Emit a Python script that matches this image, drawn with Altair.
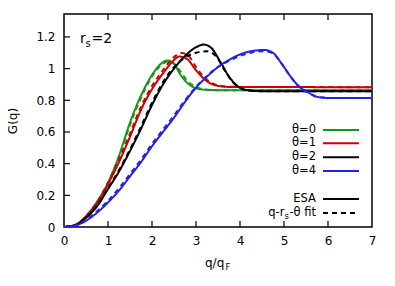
import altair as alt
import pandas as pd

# ---- data ----
series_names = ["θ=0", "θ=1", "θ=2", "θ=4"]
series_colors = ["#1c951c", "#cc0000", "#000000", "#2222e6"]

q_t0 = [0, 0.25, 0.5, 0.75, 1.0, 1.25, 1.5, 1.75, 2.0, 2.2, 2.35, 2.5, 2.65, 2.8, 2.95, 3.15, 3.5, 7.0]
g_t0 = [0, 0.012, 0.07, 0.16, 0.28, 0.45, 0.66, 0.83, 0.96, 1.03, 1.052, 1.03, 0.96, 0.91, 0.882, 0.868, 0.864, 0.863]
q_t0f = [0, 0.25, 0.5, 0.75, 1.0, 1.25, 1.5, 1.75, 2.0, 2.2, 2.38, 2.55, 2.7, 2.85, 3.0, 3.2, 3.5, 7.0]
g_t0f = [0, 0.012, 0.068, 0.155, 0.275, 0.44, 0.645, 0.815, 0.95, 1.02, 1.045, 1.02, 0.96, 0.91, 0.885, 0.868, 0.864, 0.863]

q_t1 = [0, 0.25, 0.5, 0.75, 1.0, 1.25, 1.5, 1.75, 2.0, 2.25, 2.45, 2.62, 2.8, 3.0, 3.25, 3.5, 3.8, 7.0]
g_t1 = [0, 0.012, 0.065, 0.15, 0.27, 0.41, 0.57, 0.74, 0.87, 0.97, 1.04, 1.076, 1.06, 0.99, 0.92, 0.891, 0.884, 0.883]
q_t1f = [0, 0.25, 0.5, 0.75, 1.0, 1.25, 1.5, 1.75, 2.0, 2.25, 2.45, 2.68, 2.85, 3.0, 3.25, 3.5, 3.8, 7.0]
g_t1f = [0, 0.012, 0.066, 0.155, 0.28, 0.425, 0.59, 0.76, 0.89, 0.99, 1.06, 1.098, 1.075, 1.01, 0.93, 0.895, 0.885, 0.883]

q_t2 = [0, 0.25, 0.5, 0.75, 1.0, 1.25, 1.5, 1.75, 2.0, 2.25, 2.5, 2.75, 3.0, 3.18, 3.35, 3.56, 3.75, 3.9, 4.1, 4.4, 7.0]
g_t2 = [0, 0.01, 0.058, 0.13, 0.24, 0.35, 0.48, 0.62, 0.77, 0.9, 1.0, 1.08, 1.135, 1.152, 1.13, 1.04, 0.95, 0.9, 0.868, 0.858, 0.857]
q_t2f = [0, 0.25, 0.5, 0.75, 1.0, 1.25, 1.5, 1.75, 2.0, 2.25, 2.5, 2.75, 3.0, 3.25, 3.45, 3.65, 3.85, 4.05, 4.4, 7.0]
g_t2f = [0, 0.01, 0.06, 0.135, 0.245, 0.36, 0.49, 0.635, 0.785, 0.915, 1.01, 1.07, 1.1, 1.11, 1.08, 0.99, 0.91, 0.872, 0.858, 0.857]

q_t4 = [0, 0.25, 0.5, 0.75, 1.0, 1.25, 1.5, 1.75, 2.0, 2.25, 2.5, 2.75, 3.0, 3.25, 3.5, 3.75, 4.0, 4.25, 4.55, 4.75, 4.95, 5.15, 5.35, 5.55, 5.75, 6.0, 7.0]
g_t4 = [0, 0.008, 0.04, 0.09, 0.155, 0.23, 0.32, 0.41, 0.51, 0.6, 0.69, 0.79, 0.88, 0.95, 1.01, 1.055, 1.09, 1.11, 1.118, 1.1, 1.03, 0.95, 0.885, 0.85, 0.822, 0.815, 0.814]
q_t4f = q_t4
g_t4f = [0, 0.009, 0.045, 0.1, 0.165, 0.245, 0.335, 0.425, 0.525, 0.615, 0.705, 0.8, 0.885, 0.955, 1.01, 1.05, 1.08, 1.1, 1.11, 1.095, 1.03, 0.95, 0.885, 0.85, 0.822, 0.815, 0.814]

x_ticks = [0, 1, 2, 3, 4, 5, 6, 7]
y_ticks = [0, 0.2, 0.4, 0.6, 0.8, 1, 1.2]
x_inner_ticks = [1, 2, 3, 4, 5, 6]
y_inner_ticks = [0.2, 0.4, 0.6, 0.8, 1, 1.2]

curves = [
    ("θ=0", "ESA", q_t0, g_t0), ("θ=0", "fit", q_t0f, g_t0f),
    ("θ=1", "ESA", q_t1, g_t1), ("θ=1", "fit", q_t1f, g_t1f),
    ("θ=2", "ESA", q_t2, g_t2), ("θ=2", "fit", q_t2f, g_t2f),
    ("θ=4", "ESA", q_t4, g_t4), ("θ=4", "fit", q_t4f, g_t4f),
]
rows = []
for name, kind, qs, gs in curves:
    for q, g in zip(qs, gs):
        rows.append({"q": q, "G": g, "series": name, "kind": kind})
df = pd.DataFrame(rows)

W, H = 308, 213
FONT = "DejaVu Sans"
xs = alt.Scale(domain=[0, 7], nice=False, zero=False)
ys = alt.Scale(domain=[0, 1.345], nice=False, zero=False)

x_axis = alt.Axis(values=x_ticks, format="d", ticks=False, domain=False, grid=False,
                  labelPadding=8, labelFlush=False, labelFontSize=12, labelFont=FONT,
                  labelColor="black", title=None)
y_axis = alt.Axis(values=y_ticks, format="~g", ticks=False, domain=False, grid=False,
                  labelPadding=9, labelFontSize=12, labelFont=FONT, labelColor="black",
                  title="G(q)", titleFont=FONT, titleFontSize=12, titleFontWeight="normal",
                  titleColor="black", titlePadding=16)

lines = alt.Chart(df).mark_line(strokeWidth=2, interpolate="monotone", clip=True).encode(
    x=alt.X("q:Q", scale=xs, axis=x_axis),
    y=alt.Y("G:Q", scale=ys, axis=y_axis),
    color=alt.Color("series:N", scale=alt.Scale(domain=series_names, range=series_colors), legend=None),
    strokeDash=alt.StrokeDash("kind:N", scale=alt.Scale(domain=["ESA", "fit"], range=[[1, 0], [5, 4]]), legend=None),
)

xt = pd.DataFrame({"q": x_inner_ticks})
yt = pd.DataFrame({"G": y_inner_ticks})
tick_b = alt.Chart(xt).mark_rule(color="black", strokeWidth=1.2).encode(
    x=alt.X("q:Q", scale=xs, axis=x_axis), y=alt.value(H), y2=alt.value(H - 6))
tick_t = alt.Chart(xt).mark_rule(color="black", strokeWidth=1.2).encode(
    x=alt.X("q:Q", scale=xs, axis=x_axis), y=alt.value(0), y2=alt.value(6))
tick_l = alt.Chart(yt).mark_rule(color="black", strokeWidth=1.2).encode(
    y=alt.Y("G:Q", scale=ys, axis=y_axis), x=alt.value(0), x2=alt.value(6))

one = alt.Data(values=[{"a": 1}])


def txt(s, x, y, size=12, align="left", baseline="alphabetic"):
    return alt.Chart(one).mark_text(text=s, fontSize=size, font=FONT, color="black",
                                    align=align, baseline=baseline).encode(x=alt.value(x), y=alt.value(y))


def seg(x1, x2, y, color, dash=None):
    kw = dict(color=color, strokeWidth=2)
    if dash:
        kw["strokeDash"] = dash
    return alt.Chart(one).mark_rule(**kw).encode(x=alt.value(x1), x2=alt.value(x2), y=alt.value(y))


texts = [
    txt("r", 16, 29.3, 14), txt("s", 21.6, 32.5, 10), txt("=2", 27.5, 29.3, 14),
    txt("q/q", 141, 252.5, 12), txt("F", 161.5, 255.5, 8.5),
]
leg_y = [116, 129.3, 143.3, 157]
for name, col, yy in zip(series_names, series_colors, leg_y):
    texts.append(txt(name, 252, yy, 11.5, align="right", baseline="middle"))
    texts.append(seg(259, 295, yy, col))
texts.append(txt("ESA", 252, 185, 11.5, align="right", baseline="middle"))
texts.append(seg(259, 295, 185, "black"))
texts.append(txt("-θ fit", 252, 199, 11.5, align="right", baseline="middle"))
texts.append(txt("s", 225, 202, 8.5, align="right", baseline="middle"))
texts.append(txt("q-r", 220.5, 199, 11.5, align="right", baseline="middle"))
texts.append(seg(259, 295, 199, "black", [5, 4]))

chart = alt.layer(lines, tick_b, tick_t, tick_l, *texts).properties(
    width=W, height=H,
    autosize=alt.AutoSizeParams(type="none"),
    padding={"left": 56, "top": 6, "right": 15, "bottom": 51},
).configure_view(stroke="black", strokeWidth=1.5)

chart.save("out.html", embed_options={"renderer": "svg", "actions": False})
